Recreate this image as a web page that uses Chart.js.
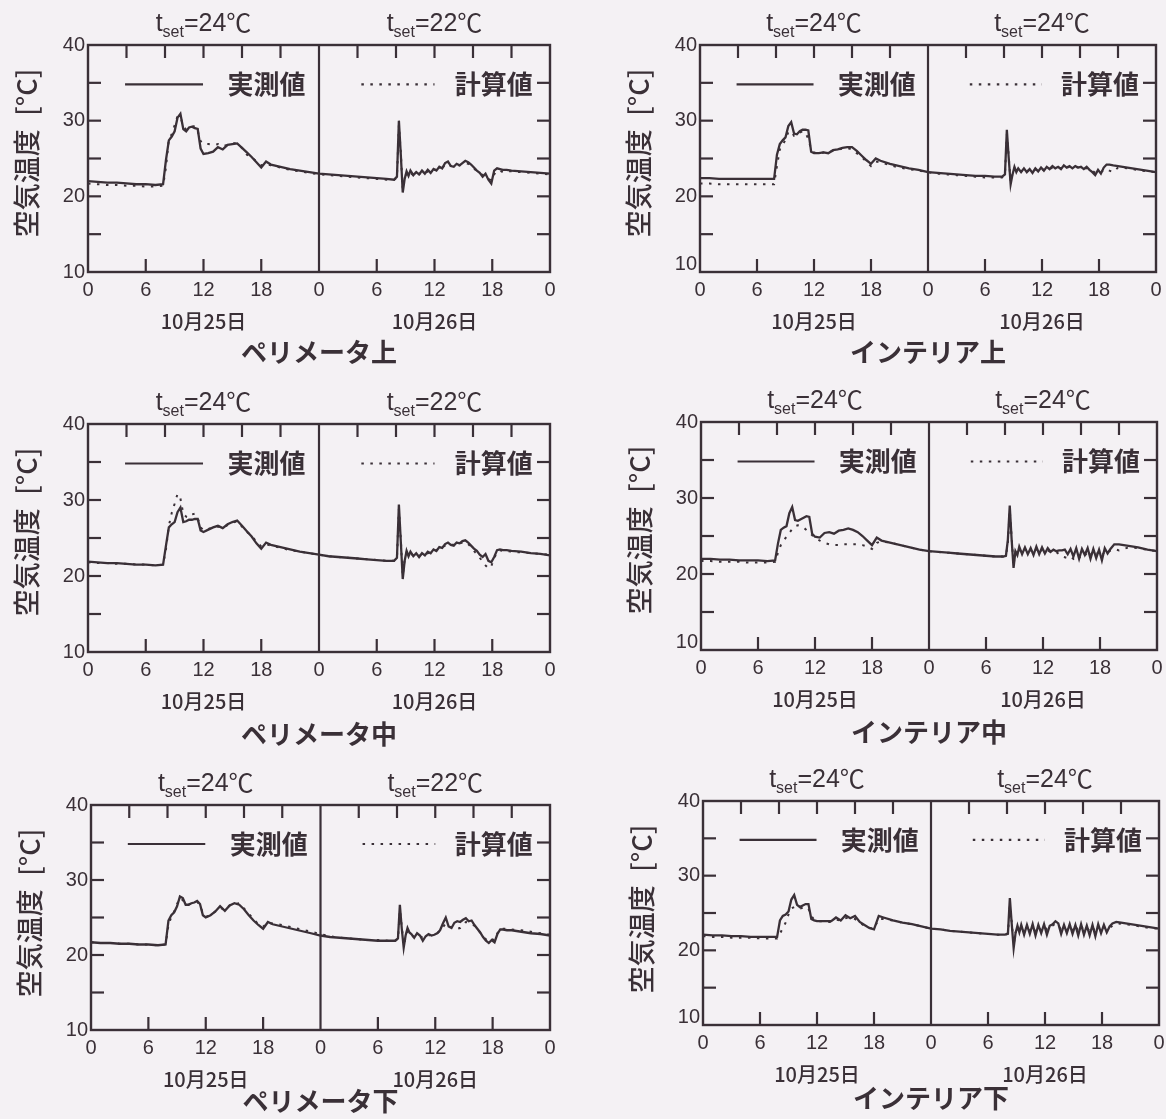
<!DOCTYPE html>
<html lang="ja">
<head>
<meta charset="utf-8">
<title>空気温度 実測値と計算値</title>
<script src="https://cdn.jsdelivr.net/npm/chart.js@4.4.1/dist/chart.umd.min.js"></script>
<style>
html, body { margin: 0; padding: 0; background: #f4f1f4; }
body { width: 1166px; height: 1119px; position: relative; overflow: hidden; }
canvas { position: absolute; }
</style>
</head>
<body>
<script>
// ---- data -------------------------------------------------------------
// elapsed hours from 0:00 on 10/25 (0-24) through 10/26 (24-48)
const hours = [
  0, 1, 2, 3, 4, 5, 6, 7,
  7.8, 8.1, 8.4, 8.7, 9.0, 9.3, 9.6, 9.9, 10.2, 10.5, 10.8, 11.1, 11.4, 11.7, 12.0,
  12.5, 13, 13.5, 14, 14.5, 15, 15.5, 16, 16.5, 17, 17.5, 18, 18.5, 19,
  20, 21, 22, 23, 24,
  25, 26, 27, 28, 29, 30, 31,
  31.8, 32.1, 32.3, 32.5, 32.7, 32.9, 33.1, 33.3, 33.5,
  33.8, 34.1, 34.4, 34.7, 35.0, 35.3, 35.6, 35.9,
  36.2, 36.5, 36.8, 37.1, 37.4, 37.7, 38.0, 38.3,
  38.6, 38.9, 39.2, 39.5, 39.8, 40.1, 40.4, 40.7,
  41.0, 41.3, 41.6, 41.9, 42.2, 42.5, 42.8, 43.1,
  43.5, 44, 45, 46, 47, 48
];

const panelNames = ['ペリメータ上', 'インテリア上', 'ペリメータ中', 'インテリア中', 'ペリメータ下', 'インテリア下'];
const setpoints = [[24, 22], [24, 24], [24, 22], [24, 24], [24, 22], [24, 24]];
const dayLabels = ['10月25日', '10月26日'];
const legendLabels = ['実測値', '計算値'];
const yAxisTitle = '空気温度\u2002[°C]';
const xTickValues = [0, 6, 12, 18, 24, 30, 36, 42, 48];
const xTopTickValues = [4, 8, 12, 16, 20, 28, 32, 36, 40, 44];
const yTickValues = [10, 15, 20, 25, 30, 35, 40];
const yLabelValues = [10, 20, 30, 40];

// ペリメータ上
const measuredPerimeterUpper = [
  22.0, 21.9, 21.8, 21.8, 21.7, 21.6, 21.6, 21.5,
  21.6, 24.8, 27.4, 27.9, 28.6, 30.4, 30.9, 28.9, 28.6, 29.1, 29.2, 29.0, 28.9, 26.3, 25.6,
  25.7, 25.9, 26.5, 26.2, 26.8, 26.9, 27.0, 26.4, 25.8, 25.2, 24.5, 23.8, 24.6, 24.2,
  23.9, 23.6, 23.4, 23.2, 23.0,
  22.9, 22.8, 22.7, 22.6, 22.5, 22.4, 22.3,
  22.2, 22.6, 30.0, 25.5, 20.5, 22.3, 23.3, 22.7, 23.4,
  22.8, 23.2, 22.9, 23.4, 23.0, 23.5, 23.1, 23.6,
  23.4, 23.9, 23.7, 24.4, 24.6, 24.0, 23.9, 24.3,
  24.1, 24.4, 24.7, 24.5, 24.2, 23.8, 23.4, 23.1,
  22.6, 23.0, 22.2, 21.7, 23.4, 23.7, 23.6, 23.5,
  23.5, 23.4, 23.3, 23.2, 23.1, 23.0
];
const calculatedPerimeterUpper = [
  21.7, 21.6, 21.5, 21.5, 21.4, 21.4, 21.3, 21.3,
  21.4, 23.8, 27.6, 28.2, 29.4, 30.6, 30.5, 29.3, 28.8, 29.0, 29.2, 29.3, 28.6, 27.3, 26.9,
  26.9, 26.8, 26.9, 26.6, 26.8, 27.0, 27.0, 26.4, 25.5, 25.2, 24.6, 24.1, 24.3, 24.1,
  23.8, 23.5, 23.3, 23.1, 22.9,
  22.8, 22.7, 22.6, 22.5, 22.4, 22.3, 22.2,
  22.2, 22.5, 29.4, 25.8, 20.9, 22.4, 23.1, 22.9, 23.1,
  22.8, 23.1, 22.9, 23.2, 23.0, 23.3, 23.2, 23.5,
  23.5, 23.7, 23.8, 24.1, 24.3, 24.0, 24.0, 24.1,
  24.1, 24.2, 24.4, 24.3, 24.0, 23.7, 23.3, 23.1,
  22.8, 22.6, 22.3, 22.1, 22.9, 23.4, 23.4, 23.2,
  23.3, 23.3, 23.2, 23.1, 23.0, 22.9
];

// インテリア上
const measuredInteriorUpper = [
  22.4, 22.4, 22.3, 22.3, 22.3, 22.3, 22.3, 22.3,
  22.3, 25.5, 26.9, 27.4, 27.8, 29.3, 29.8, 28.3, 28.2, 28.6, 28.8, 28.8, 28.7, 25.9, 25.7,
  25.7, 25.8, 25.7, 26.1, 26.2, 26.4, 26.5, 26.5, 26.0, 25.4, 24.8, 24.3, 25.0, 24.7,
  24.3, 24.0, 23.7, 23.5, 23.2,
  23.1, 23.0, 22.9, 22.8, 22.7, 22.7, 22.6,
  22.6, 22.9, 28.8, 25.0, 21.6, 22.9, 23.9, 23.2, 23.7,
  23.2, 23.7, 23.2, 23.6, 23.1, 23.7, 23.3, 23.8,
  23.4, 23.9, 23.6, 24.0, 23.7, 23.9, 23.6, 24.1,
  23.8, 24.0, 23.7, 24.0, 23.8, 23.9, 23.6, 23.9,
  23.5, 23.2, 22.8, 23.5, 23.0, 23.8, 24.2, 24.2,
  24.1, 24.0, 23.8, 23.6, 23.4, 23.2
];
const calculatedInteriorUpper = [
  21.7, 21.7, 21.6, 21.6, 21.6, 21.6, 21.6, 21.6,
  21.6, 24.0, 26.2, 26.8, 27.5, 28.5, 28.6, 28.0, 28.1, 28.4, 28.6, 28.4, 27.6, 26.2, 25.8,
  25.7, 25.8, 25.9, 26.0, 26.2, 26.3, 26.4, 26.2, 25.7, 25.2, 24.6, 24.0, 24.6, 24.5,
  24.1, 23.8, 23.6, 23.4, 23.2,
  23.0, 22.9, 22.8, 22.7, 22.6, 22.5, 22.5,
  22.5, 22.8, 28.2, 25.2, 21.9, 23.0, 23.7, 23.3, 23.6,
  23.3, 23.6, 23.3, 23.5, 23.2, 23.6, 23.4, 23.6,
  23.5, 23.7, 23.6, 23.8, 23.7, 23.8, 23.7, 23.9,
  23.8, 23.9, 23.8, 23.9, 23.8, 23.8, 23.7, 23.7,
  23.6, 23.4, 23.1, 23.3, 23.2, 23.5, 23.6, 23.4,
  23.2, 23.8, 23.7, 23.5, 23.3, 23.2
];

// ペリメータ中
const measuredPerimeterMiddle = [
  21.9, 21.8, 21.7, 21.7, 21.6, 21.5, 21.5, 21.4,
  21.5, 24.0, 26.4, 26.8, 27.1, 28.4, 29.0, 27.1, 27.2, 27.4, 27.4, 27.5, 27.5, 26.0, 25.8,
  26.1, 26.4, 26.6, 26.3, 26.8, 27.1, 27.3, 26.6, 25.9, 25.2, 24.3, 23.6, 24.4, 24.1,
  23.8, 23.5, 23.2, 23.0, 22.8,
  22.6, 22.5, 22.4, 22.3, 22.2, 22.1, 22.0,
  22.0, 22.4, 29.4, 24.5, 19.6, 22.0, 23.3, 22.6, 23.2,
  22.6, 23.0, 22.5, 23.0, 22.7, 23.2, 23.0, 23.5,
  23.3, 23.8, 23.7, 24.2, 24.4, 24.1, 24.0, 24.4,
  24.3, 24.6, 24.7, 24.4, 24.0, 23.6, 23.3, 22.8,
  22.5, 22.9, 22.0, 21.8, 22.5, 23.4, 23.5, 23.4,
  23.4, 23.3, 23.2, 23.0, 22.9, 22.7
];
const calculatedPerimeterMiddle = [
  21.8, 21.7, 21.7, 21.6, 21.6, 21.5, 21.5, 21.4,
  21.5, 23.5, 26.6, 28.3, 29.5, 30.8, 30.2, 28.2, 27.8, 27.7, 28.1, 28.2, 27.6, 26.4, 26.0,
  26.2, 26.4, 26.5, 26.4, 26.7, 27.0, 27.2, 26.5, 25.8, 25.3, 24.5, 23.9, 24.2, 24.0,
  23.7, 23.4, 23.2, 23.0, 22.8,
  22.6, 22.5, 22.4, 22.3, 22.2, 22.1, 22.0,
  22.0, 22.3, 28.8, 24.8, 20.0, 22.2, 23.1, 22.8, 23.0,
  22.7, 22.9, 22.6, 22.9, 22.8, 23.0, 23.1, 23.3,
  23.4, 23.6, 23.8, 24.0, 24.2, 24.1, 24.1, 24.3,
  24.3, 24.4, 24.5, 24.2, 23.8, 23.3, 22.9, 22.4,
  21.9, 21.4, 21.0, 21.3, 22.3, 23.2, 23.4, 23.3,
  23.3, 23.2, 23.1, 23.0, 22.9, 22.8
];

// インテリア中
const measuredInteriorMiddle = [
  22.0, 22.0, 21.9, 21.9, 21.8, 21.8, 21.8, 21.7,
  21.8, 24.0, 25.8, 26.1, 26.3, 28.0, 28.8, 27.1, 27.0, 27.2, 27.4, 27.6, 27.5, 25.3, 24.9,
  24.8, 25.4, 25.5, 25.3, 25.7, 25.8, 26.0, 25.8, 25.5, 25.0, 24.4, 23.8, 24.8, 24.4,
  24.1, 23.8, 23.5, 23.2, 23.0,
  22.9, 22.8, 22.7, 22.6, 22.5, 22.4, 22.3,
  22.3, 22.4, 24.5, 29.0, 24.5, 20.8, 23.0, 22.5, 23.6,
  22.6, 23.5, 22.6, 23.4, 22.5, 23.6, 22.6, 23.5,
  22.7, 23.4, 22.9, 23.2, 23.0, 23.1, 23.1, 23.2,
  22.6, 23.3, 22.3, 23.4, 22.0, 23.3, 22.5, 23.4,
  22.0, 23.3, 22.1, 23.2, 21.8, 23.4, 22.7, 23.3,
  23.9, 23.9, 23.7, 23.5, 23.2, 23.0
];
const calculatedInteriorMiddle = [
  21.7, 21.7, 21.6, 21.6, 21.6, 21.5, 21.5, 21.5,
  21.6, 22.8, 23.8, 24.4, 24.9, 25.4, 25.9, 26.3, 26.4, 26.3, 26.1, 25.8, 25.5, 25.1, 24.8,
  24.4, 24.1, 23.9, 23.8, 23.8, 23.9, 23.9, 23.9, 23.9, 23.8, 23.6, 23.3, 24.1, 24.3,
  24.1, 23.8, 23.5, 23.2, 23.0,
  22.9, 22.8, 22.7, 22.6, 22.5, 22.4, 22.3,
  22.3, 22.4, 24.0, 28.4, 24.8, 21.2, 22.9, 22.8, 23.3,
  22.7, 23.3, 22.8, 23.2, 22.7, 23.3, 22.8, 23.2,
  22.9, 23.1, 22.9, 23.0, 22.9, 22.6, 22.3, 22.2,
  22.1, 22.3, 22.0, 22.4, 22.1, 22.6, 22.4, 22.9,
  22.5, 23.0, 22.6, 22.9, 22.4, 23.0, 22.8, 23.1,
  23.3, 23.1, 23.5, 23.4, 23.2, 23.0
];

// ペリメータ下
const measuredPerimeterLower = [
  21.7, 21.6, 21.6, 21.5, 21.5, 21.4, 21.4, 21.3,
  21.4, 24.6, 25.3, 25.7, 26.5, 27.8, 27.6, 26.7, 26.7, 26.9, 27.0, 27.2, 26.8, 25.3, 25.0,
  25.3, 25.8, 26.5, 25.9, 26.6, 26.9, 26.7, 26.1, 25.3, 24.6, 24.0, 23.5, 24.4, 24.1,
  23.8, 23.5, 23.2, 22.9, 22.6,
  22.4, 22.3, 22.2, 22.1, 22.0, 21.9, 21.9,
  21.9, 22.2, 26.7, 23.5, 21.0, 22.6, 23.6, 23.0, 22.8,
  22.3, 22.9, 22.6, 21.9, 22.5, 22.8, 22.6, 22.7,
  22.9, 23.3, 24.2, 25.0, 23.8, 23.6, 24.3, 24.5,
  24.4, 24.7, 24.9, 24.5, 24.6, 24.0, 23.5, 23.0,
  22.4, 21.9, 21.6, 22.0, 21.7, 22.8, 23.4, 23.4,
  23.3, 23.3, 23.1, 22.9, 22.8, 22.6
];
const calculatedPerimeterLower = [
  21.7, 21.6, 21.6, 21.5, 21.5, 21.4, 21.4, 21.3,
  21.4, 24.0, 25.1, 25.8, 26.8, 27.6, 27.3, 26.8, 26.7, 26.9, 27.0, 27.1, 26.6, 25.6, 25.1,
  25.3, 25.8, 26.3, 26.0, 26.6, 26.8, 26.9, 26.2, 25.5, 24.8, 24.1, 23.8, 24.3, 24.2,
  24.0, 23.7, 23.4, 23.1, 22.8,
  22.5, 22.3, 22.2, 22.1, 22.0, 22.0, 21.9,
  21.9, 22.1, 26.0, 23.8, 21.3, 22.3, 23.2, 23.0, 22.6,
  22.4, 22.6, 22.5, 22.3, 22.5, 22.6, 22.7, 22.8,
  22.9, 23.2, 23.7, 24.2, 23.8, 23.7, 23.6, 23.5,
  23.6, 24.0, 24.4, 24.3, 24.2, 23.9, 23.5, 23.0,
  22.5, 22.1, 21.8, 22.1, 22.0, 22.9, 23.5, 23.5,
  23.5, 23.4, 23.3, 23.1, 22.9, 22.7
];

// インテリア下
const measuredInteriorLower = [
  22.1, 22.0, 22.0, 21.9, 21.9, 21.8, 21.8, 21.8,
  21.8, 24.0, 24.6, 24.8, 25.2, 26.8, 27.4, 26.1, 25.8, 26.0, 26.2, 26.2, 24.2, 24.0, 23.9,
  23.9, 23.9, 23.9, 24.4, 24.0, 24.7, 24.3, 24.6, 23.8, 23.4, 23.0, 22.8, 24.6, 24.4,
  24.0, 23.7, 23.5, 23.2, 22.9,
  22.8, 22.6, 22.5, 22.4, 22.3, 22.2, 22.1,
  22.1, 22.3, 27.0, 23.5, 20.3, 22.3, 23.3, 22.4, 23.4,
  22.1, 23.4, 22.2, 23.5, 22.0, 23.4, 22.3, 23.5,
  22.1, 23.3, 23.5, 23.9, 23.6, 22.2, 23.4, 22.3,
  23.5, 22.2, 23.4, 22.0, 23.5, 22.1, 23.3, 22.0,
  23.4, 21.9, 23.5, 22.3, 23.4, 22.4, 23.2, 23.6,
  23.8, 23.7, 23.5, 23.3, 23.1, 22.9
];
const calculatedInteriorLower = [
  21.9, 21.8, 21.8, 21.7, 21.7, 21.7, 21.6, 21.6,
  21.6, 22.2, 23.0, 23.7, 24.8, 25.6, 25.8, 25.6, 25.6, 25.7, 25.8, 25.6, 24.6, 24.1, 23.9,
  23.9, 23.8, 23.8, 24.1, 24.0, 24.3, 24.4, 24.2, 23.7, 23.3, 23.0, 22.9, 24.2, 24.2,
  24.0, 23.7, 23.5, 23.2, 22.9,
  22.8, 22.6, 22.5, 22.4, 22.3, 22.2, 22.1,
  22.1, 22.2, 26.0, 23.8, 20.8, 22.4, 23.1, 22.6, 23.1,
  22.5, 23.0, 22.6, 23.1, 22.5, 23.0, 22.7, 23.2,
  22.8, 23.2, 23.3, 23.6, 23.3, 22.8, 23.0, 22.7,
  23.2, 22.7, 23.3, 22.6, 23.2, 22.7, 23.0, 22.6,
  23.1, 22.5, 23.2, 22.7, 23.1, 22.8, 23.0, 23.3,
  23.5, 23.6, 23.4, 23.2, 23.0, 22.9
];

const measuredSeries = [measuredPerimeterUpper, measuredInteriorUpper, measuredPerimeterMiddle,
  measuredInteriorMiddle, measuredPerimeterLower, measuredInteriorLower];
const calculatedSeries = [calculatedPerimeterUpper, calculatedInteriorUpper, calculatedPerimeterMiddle,
  calculatedInteriorMiddle, calculatedPerimeterLower, calculatedInteriorLower];

// ---- layout -----------------------------------------------------------
// plot-area rectangles (page pixels) for each panel
const plotBoxes = [
  { l: 88,  t: 45,  r: 550,  b: 272,  nameDy: 80, raiseTen: false },
  { l: 700, t: 45,  r: 1156, b: 272,  nameDy: 80, raiseTen: true },
  { l: 88,  t: 424, r: 550,  b: 652,  nameDy: 82, raiseTen: false },
  { l: 701, t: 422, r: 1157, b: 650,  nameDy: 82, raiseTen: true },
  { l: 91,  t: 805, r: 550,  b: 1030, nameDy: 71, raiseTen: false },
  { l: 703, t: 801, r: 1159, b: 1025, nameDy: 73, raiseTen: true }
];
const PAD = { left: 86, right: 8, top: 46, bottom: 96 };
const INK = '#3a3037';
const LATIN = '"Liberation Sans", Arial, sans-serif';
const CJK = '"Noto Sans CJK JP", "Noto Sans CJK SC", sans-serif';
const CALC_DASH = [2.5, 6.5];

for (const [i, s] of measuredSeries.entries()) {
  if (s.length !== hours.length) throw new Error('measured ' + i + ' has ' + s.length + ' values');
  if (calculatedSeries[i].length !== hours.length) throw new Error('calculated ' + i + ' has ' + calculatedSeries[i].length + ' values');
}

function toPoints(values) {
  return hours.map((h, k) => ({ x: h, y: values[k] }));
}

// frame, inward ticks, tick labels, legend and captions
const panelDecor = {
  id: 'panelDecor',
  afterDatasetsDraw(chart, args, o) {
    const { ctx, chartArea: a } = chart;
    const x = chart.scales.x, y = chart.scales.y;
    const seg = (x1, y1, x2, y2) => { ctx.beginPath(); ctx.moveTo(x1, y1); ctx.lineTo(x2, y2); ctx.stroke(); };
    ctx.save();
    ctx.strokeStyle = INK;
    ctx.fillStyle = INK;
    ctx.setLineDash([]);
    ctx.lineCap = 'butt';

    // frame and day divider
    ctx.lineWidth = 2.4;
    ctx.strokeRect(a.left, a.top, a.right - a.left, a.bottom - a.top);
    const xm = x.getPixelForValue(24);
    ctx.lineWidth = 2.2;
    seg(xm, a.top, xm, a.bottom);

    // inward ticks
    const TL = 13;
    ctx.lineWidth = 2.2;
    yTickValues.filter(v => v > 10 && v < 40).forEach(v => {
      const py = y.getPixelForValue(v);
      seg(a.left, py, a.left + TL, py);
      seg(a.right - TL, py, a.right, py);
    });
    xTickValues.filter(v => v % 24 !== 0).forEach(v => {
      const px = x.getPixelForValue(v);
      seg(px, a.bottom, px, a.bottom - TL);
    });
    xTopTickValues.forEach(v => {
      const px = x.getPixelForValue(v);
      seg(px, a.top, px, a.top + TL);
    });

    // y tick labels
    ctx.font = '20px ' + LATIN;
    ctx.textAlign = 'right';
    ctx.textBaseline = 'middle';
    yLabelValues.forEach(v => {
      let py = y.getPixelForValue(v);
      if (v === 10 && o.raiseTen) py -= 8;
      ctx.fillText(String(v), a.left - 3, py);
    });

    // x tick labels (hour of day)
    ctx.textAlign = 'center';
    xTickValues.forEach(v => {
      ctx.fillText(String(v % 24), x.getPixelForValue(v), a.bottom + 18);
    });

    // date captions
    ctx.font = '500 20px ' + CJK;
    dayLabels.forEach((d, k) => {
      ctx.fillText(d, x.getPixelForValue(12 + 24 * k), a.bottom + 49);
    });

    // panel name
    ctx.font = 'bold 26px ' + CJK;
    ctx.fillText(o.name, (a.left + a.right) / 2, a.bottom + o.nameDy);

    // set-point captions: t with subscript "set"
    o.setpoints.forEach((sp, k) => {
      const cx = x.getPixelForValue(12 + 24 * k);
      const base = a.top - 14;
      const big = '25px ' + LATIN, small = '16px ' + LATIN, unit = '25px ' + CJK;
      const num = '=' + sp;
      ctx.font = big; const w1 = ctx.measureText('t').width; const w3 = ctx.measureText(num).width;
      ctx.font = small; const w2 = ctx.measureText('set').width;
      ctx.font = unit; const w4 = ctx.measureText('℃').width;
      let px = cx - (w1 + w2 + w3 + w4) / 2;
      ctx.textAlign = 'left';
      ctx.textBaseline = 'alphabetic';
      ctx.font = big; ctx.fillText('t', px, base); px += w1;
      ctx.font = small; ctx.fillText('set', px, base + 6); px += w2;
      ctx.font = big; ctx.fillText(num, px, base); px += w3;
      ctx.font = unit; ctx.fillText('℃', px, base + 1);
    });

    // y axis title
    ctx.save();
    ctx.translate(a.left - 61, a.top + 108);
    ctx.rotate(-Math.PI / 2);
    ctx.font = '500 27px ' + CJK;
    ctx.textAlign = 'center';
    ctx.textBaseline = 'middle';
    ctx.fillText(yAxisTitle, 0, 0);
    ctx.restore();

    // legend keys
    const ly = y.getPixelForValue(34.8);
    ctx.lineWidth = 2.2;
    seg(x.getPixelForValue(3.85), ly, x.getPixelForValue(11.95), ly);
    ctx.setLineDash(CALC_DASH);
    seg(x.getPixelForValue(28.4), ly, x.getPixelForValue(36.0), ly);
    ctx.setLineDash([]);
    ctx.font = 'bold 26px ' + CJK;
    ctx.textBaseline = 'middle';
    ctx.textAlign = 'left';
    ctx.fillText(legendLabels[0], x.getPixelForValue(14.5), ly);
    ctx.textAlign = 'right';
    ctx.fillText(legendLabels[1], x.getPixelForValue(46.2), ly);
    ctx.restore();
  }
};

function makePanel(i) {
  const box = plotBoxes[i];
  const w = box.r - box.l + PAD.left + PAD.right;
  const h = box.b - box.t + PAD.top + PAD.bottom;
  const cv = document.createElement('canvas');
  cv.width = w; cv.height = h;
  cv.style.width = w + 'px'; cv.style.height = h + 'px';
  cv.style.left = (box.l - PAD.left) + 'px';
  cv.style.top = (box.t - PAD.top) + 'px';
  document.body.appendChild(cv);
  new Chart(cv, {
    type: 'line',
    data: {
      datasets: [
        { label: legendLabels[1], data: toPoints(calculatedSeries[i]), borderColor: INK,
          borderWidth: 2, borderDash: CALC_DASH, pointRadius: 0, tension: 0, fill: false },
        { label: legendLabels[0], data: toPoints(measuredSeries[i]), borderColor: INK,
          borderWidth: 2.3, pointRadius: 0, tension: 0, fill: false }
      ]
    },
    options: {
      responsive: false,
      animation: false,
      devicePixelRatio: 1,
      events: [],
      layout: { padding: PAD },
      scales: {
        x: { type: 'linear', min: 0, max: 48, display: false },
        y: { type: 'linear', min: 10, max: 40, display: false }
      },
      plugins: {
        legend: { display: false },
        tooltip: { enabled: false },
        panelDecor: { name: panelNames[i], setpoints: setpoints[i], nameDy: box.nameDy, raiseTen: box.raiseTen }
      }
    },
    plugins: [panelDecor]
  });
}

for (let i = 0; i < plotBoxes.length; i++) makePanel(i);
</script>
</body>
</html>
